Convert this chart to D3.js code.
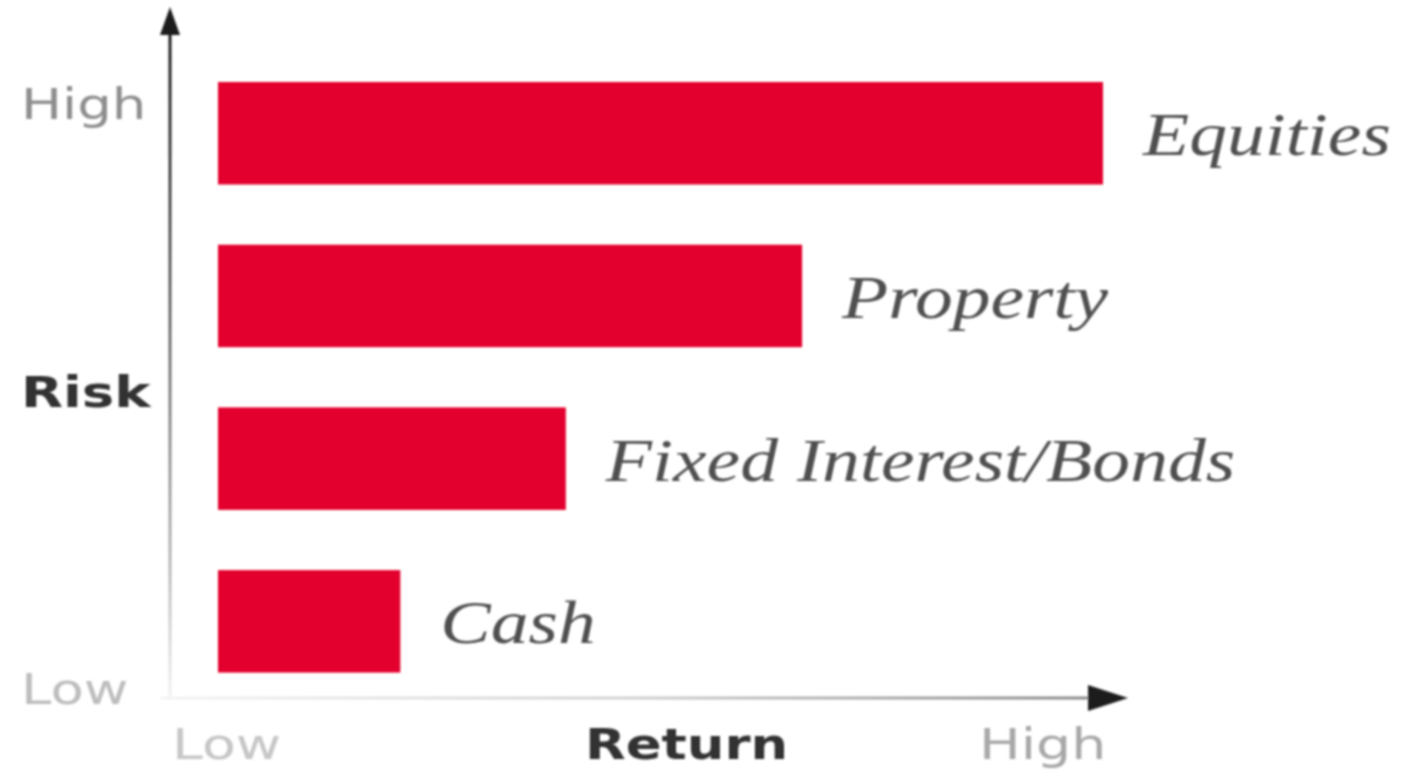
<!DOCTYPE html>
<html>
<head>
<meta charset="utf-8">
<script src="https://cdn.jsdelivr.net/npm/d3@7"></script>
<style>
  html, body { margin: 0; padding: 0; background: #fff; }
  svg { display: block; }
</style>
</head>
<body>
<svg id="chart" width="1403" height="772"></svg>
<script>
// Asset classes, highest risk first
const categories = ["Equities", "Property", "Fixed Interest/Bonds", "Cash"];
// Relative return on a 0–10 scale
const returns = [10, 6.6, 3.93, 2.06];
// Axis end labels
const riskLabels = ["Low", "Risk", "High"];
const returnLabels = ["Low", "Return", "High"];

const W = 1403, H = 772;
const svg = d3.select("#chart");

const defs = svg.append("defs");
const soft = defs.append("filter").attr("id", "soft")
  .attr("x", "-5%").attr("y", "-5%").attr("width", "110%").attr("height", "110%");
soft.append("feGaussianBlur").attr("stdDeviation", 0.9);

// Vertical axis fades from dark at the top to near-white at the bottom
const gv = defs.append("linearGradient").attr("id", "gv")
  .attr("x1", 0).attr("y1", 0).attr("x2", 0).attr("y2", 1);
gv.append("stop").attr("offset", "0%").attr("stop-color", "#1c1c1c");
gv.append("stop").attr("offset", "45%").attr("stop-color", "#6e6e6e");
gv.append("stop").attr("offset", "80%").attr("stop-color", "#b8b8b8");
gv.append("stop").attr("offset", "100%").attr("stop-color", "#f2f2f2");

// Horizontal axis fades from near-white at the left to grey at the right
const gh = defs.append("linearGradient").attr("id", "gh")
  .attr("x1", 0).attr("y1", 0).attr("x2", 1).attr("y2", 0);
gh.append("stop").attr("offset", "0%").attr("stop-color", "#f4f4f4");
gh.append("stop").attr("offset", "50%").attr("stop-color", "#d2d2d2");
gh.append("stop").attr("offset", "100%").attr("stop-color", "#8a8a8a");

const g = svg.append("g").attr("filter", "url(#soft)");

const x = d3.scaleLinear().domain([0, 10]).range([218, 1103]);
const y = d3.scaleBand().domain(categories).range([82, 672.6]).paddingInner(0.37).paddingOuter(0);

const origin = { x: 170, y: 698 };
const stretch = 1.24; // wide lettering

// Axes with arrowheads
g.append("rect")
  .attr("x", origin.x - 1.5).attr("y", 30)
  .attr("width", 3).attr("height", origin.y - 30)
  .attr("fill", "url(#gv)");
g.append("path")
  .attr("d", `M${origin.x},7 L${origin.x + 10},35 L${origin.x - 10},35 Z`)
  .attr("fill", "#1a1a1a");

g.append("rect")
  .attr("x", 160).attr("y", origin.y - 1.5)
  .attr("width", 1090 - 160).attr("height", 3)
  .attr("fill", "url(#gh)");
g.append("path")
  .attr("d", `M1128,${origin.y} L1088,${origin.y - 13} L1088,${origin.y + 13} Z`)
  .attr("fill", "#1e1e1e");

// Bars
const rows = categories.map((c, i) => ({ name: c, value: returns[i] }));
g.selectAll("rect.bar").data(rows).join("rect")
  .attr("class", "bar")
  .attr("x", x(0))
  .attr("y", d => y(d.name))
  .attr("width", d => x(d.value) - x(0))
  .attr("height", y.bandwidth())
  .attr("fill", "#e4042e");

// Category labels beside each bar
g.selectAll("text.cat").data(rows).join("text")
  .attr("class", "cat")
  .attr("transform", d => `translate(${x(d.value) + 40},${y(d.name) + y.bandwidth() / 2 + 22}) scale(${stretch},1)`)
  .attr("font-family", "'Liberation Serif', 'Times New Roman', serif")
  .attr("font-style", "italic")
  .attr("font-size", 61)
  .attr("fill", "#505050")
  .text(d => d.name);

// Risk axis labels (left)
const sans = "'DejaVu Sans', Verdana, sans-serif";
const riskPos = [
  { t: riskLabels[0], y: 704, fill: "#bdbdbd", w: "normal" },
  { t: riskLabels[1], y: 407, fill: "#333333", w: "bold" },
  { t: riskLabels[2], y: 119, fill: "#8e8e8e", w: "normal" }
];
g.selectAll("text.risk").data(riskPos).join("text")
  .attr("class", "risk")
  .attr("transform", d => `translate(21,${d.y}) scale(1.27,1)`)
  .attr("font-family", sans)
  .attr("font-weight", d => d.w)
  .attr("font-size", 43)
  .attr("fill", d => d.fill)
  .text(d => d.t);

// Return axis labels (bottom)
const retPos = [
  { t: returnLabels[0], x: 172, fill: "#c6c6c6", w: "normal", s: 1.29 },
  { t: returnLabels[1], x: 585, fill: "#333333", w: "bold", s: 1.23 },
  { t: returnLabels[2], x: 979, fill: "#a8a8a8", w: "normal", s: 1.29 }
];
g.selectAll("text.ret").data(retPos).join("text")
  .attr("class", "ret")
  .attr("transform", d => `translate(${d.x},759) scale(${d.s},1)`)
  .attr("font-family", sans)
  .attr("font-weight", d => d.w)
  .attr("font-size", 43)
  .attr("fill", d => d.fill)
  .text(d => d.t);
</script>
</body>
</html>
